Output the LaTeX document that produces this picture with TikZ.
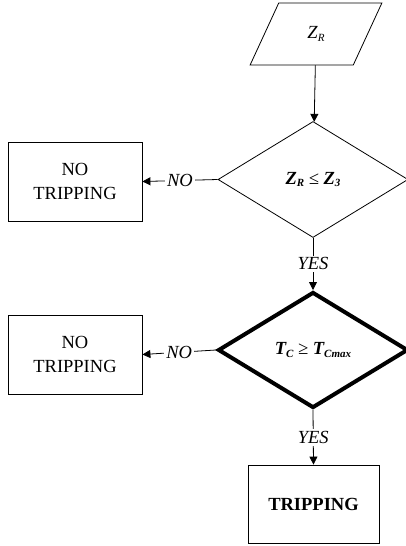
\documentclass[tikz,border=0pt]{standalone}
\usepackage{fontspec}
\setmainfont{Liberation Serif}
\usepackage{tikz}
\usetikzlibrary{shapes.geometric,arrows.meta,positioning}
\newcommand{\chartsize}{\fontsize{18.5}{24}\selectfont}
\newcommand{\lowidx}[1]{\raisebox{-0.3ex}{\fontsize{11}{11}\selectfont #1}}
\tikzstyle{inputdata}=[trapezium,trapezium left angle=66,trapezium right angle=114,
trapezium stretches=true,draw=black,line width=0.8pt,minimum width=132pt,minimum height=62pt,inner sep=0pt]
\tikzstyle{decision}=[diamond,draw=black,line width=0.8pt,minimum width=190pt,minimum height=116pt,
inner sep=0pt,font=\chartsize\bfseries\itshape]
\tikzstyle{thickdecision}=[decision,line width=4pt]
\tikzstyle{outcome}=[rectangle,draw=black,line width=0.8pt,minimum width=134pt,minimum height=79pt,
inner sep=3pt,align=center]
\tikzstyle{branch}=[fill=white,inner sep=2pt,font=\chartsize\itshape]

\begin{document}
\begin{tikzpicture}[x=1pt,y=-1pt,>={Triangle[length=8pt,width=8pt]},line width=0.8pt,
    every node/.style={font=\chartsize}]
    \useasboundingbox (0,0) rectangle (406,546);

    \node[inputdata] (zr) at (316,34) {\textit{Z\lowidx{R}}};
    \node[decision] (check_z) at (313,179.5) {Z\lowidx{R} {\mdseries≤} Z\lowidx{3}};
    \node[outcome] (notrip_z) at (75,181.5) {NO\\TRIPPING};
    \node[thickdecision] (check_t) at (313,350) {T\lowidx{C} {\mdseries≥} T\lowidx{Cmax}};
    \node[outcome] (notrip_t) at (75,354.5) {NO\\TRIPPING};
    \node[outcome,minimum width=131pt,minimum height=78pt] (trip) at (313.5,504) {\textbf{TRIPPING}};

    \draw[->] (zr) -- (check_z);
    \draw[->] (check_z.west) -- node[branch] {NO} (notrip_z.east);
    \draw[->] (check_z.south) -- node[branch] {YES} (check_t.north);
    \draw[->] (check_t.west) -- node[branch] {NO} (notrip_t.east);
    \draw[->] (check_t.south) -- node[branch] {YES} (trip.north);
  \end{tikzpicture}
\end{document}
